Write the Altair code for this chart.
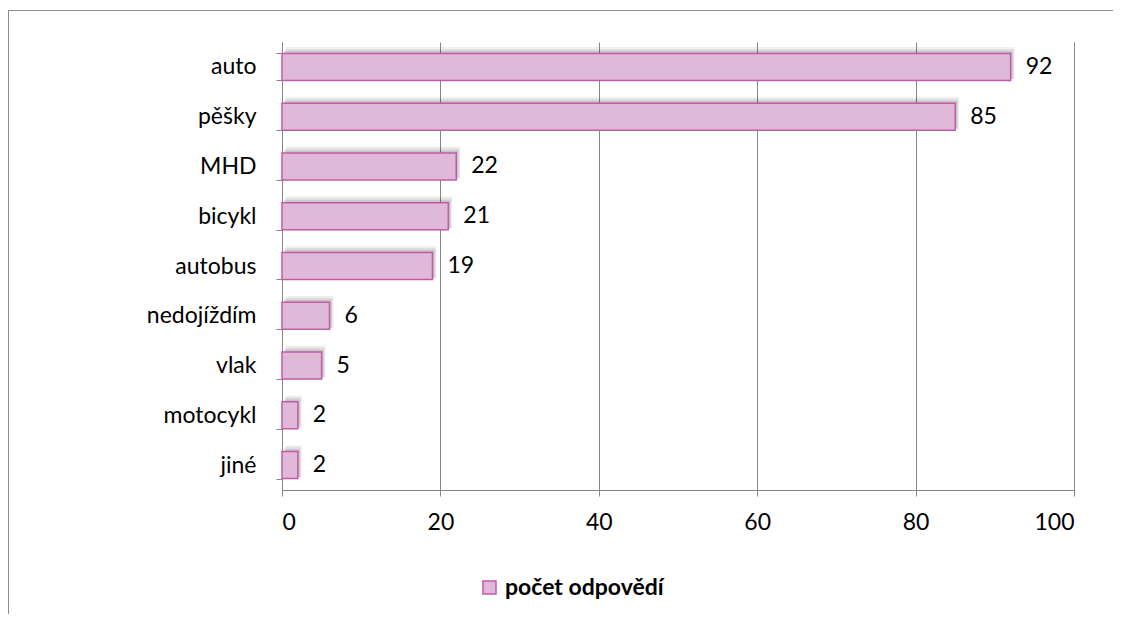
import altair as alt
import pandas as pd

categories = ["auto", "pěšky", "MHD", "bicykl", "autobus", "nedojíždím", "vlak", "motocykl", "jiné"]
values = [92, 85, 22, 21, 19, 6, 5, 2, 2]
series_name = "počet odpovědí"
x_ticks = [0, 20, 40, 60, 80, 100]

df = pd.DataFrame({"kat": categories, "val": values, "serie": [series_name] * len(categories)})

FONT = "Lato"
FS = 23
FILL = "#E0B9D8"
STROKE = "#C35AA8"
GRID = "#878787"

y_enc = alt.Y("kat:N", sort=categories, title=None,
              scale=alt.Scale(paddingInner=0.46, paddingOuter=0.23),
              axis=alt.Axis(tickBand="extent", labelFontSize=FS, labelFont=FONT, labelColor="#000000",
                            labelPadding=20, tickSize=6, tickColor=GRID, domainColor=GRID,
                            grid=False))
x_enc = alt.X("val:Q", title=None,
              scale=alt.Scale(domain=[0, 100], nice=False),
              axis=alt.Axis(values=x_ticks, labelFontSize=FS, labelFont=FONT, labelColor="#000000",
                            labelPadding=15, tickSize=6, tickColor=GRID, domainColor=GRID,
                            grid=True, gridColor=GRID, gridOpacity=1))

base = alt.Chart(df)

shadows = []
for off, sz, op in [(4, 32, 0.06), (3, 30, 0.08), (2, 28, 0.10)]:
    shadows.append(base.mark_bar(color="#000000", opacity=op, xOffset=off, yOffset=-off, size=sz).encode(
        y=alt.Y("kat:N", sort=categories), x=alt.X("val:Q")))

bars = base.mark_bar(stroke=STROKE, strokeWidth=1.5, size=27).encode(
    y=y_enc, x=x_enc,
    color=alt.Color("serie:N", title=None,
                    scale=alt.Scale(range=[FILL]),
                    legend=alt.Legend(orient="none", legendX=196, legendY=534,
                                      symbolType="square", symbolSize=170,
                                      symbolStrokeColor=STROKE, symbolStrokeWidth=1.5,
                                      symbolFillColor=FILL, symbolOpacity=1,
                                      labelFont=FONT, labelFontSize=FS, labelFontWeight="bold",
                                      labelColor="#000000", labelOffset=4)))

labels = base.mark_text(align="left", baseline="middle", dx=15, fontSize=FS, font=FONT,
                        color="#000000").encode(
    y=alt.Y("kat:N", sort=categories), x=alt.X("val:Q"), text=alt.Text("val:Q"))

frame_left = alt.Chart(df).mark_rule(color="#8C8C8C", strokeWidth=1).encode(
    x=alt.value(-273.5), y=alt.value(-32), y2=alt.value(600))
frame_top = alt.Chart(df).mark_rule(color="#8C8C8C", strokeWidth=1).encode(
    x=alt.value(-273.5), x2=alt.value(900), y=alt.value(-31.5))

chart = alt.layer(*shadows, bars, labels, frame_left, frame_top).properties(
    width=792, height=448,
    autosize=alt.AutoSizeParams(type="none"),
    padding={"left": 274, "top": 34, "right": 39, "bottom": 124},
    background="#FFFFFF",
).configure_view(stroke=None)

chart.save("out.html", embed_options={"renderer": "svg", "actions": False})
